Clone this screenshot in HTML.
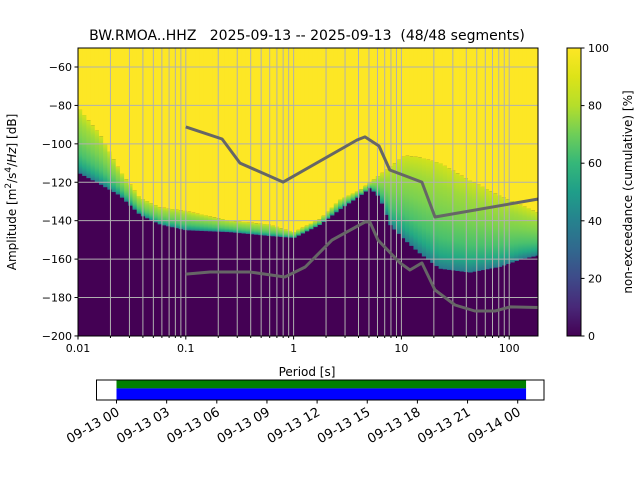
<!DOCTYPE html>
<html><head><meta charset="utf-8"><style>
html,body{margin:0;padding:0;background:#fff}
svg{display:block;font-family:"DejaVu Sans","Liberation Sans",sans-serif}
</style></head><body>
<svg id="chart" width="640" height="480" viewBox="0 0 640 480">
<defs>
<linearGradient id="band" x1="0" y1="0" x2="0" y2="1">
<stop offset="0" stop-color="#d2e21b"/><stop offset="0.2" stop-color="#a0da39"/>
<stop offset="0.45" stop-color="#7ad151"/><stop offset="0.7" stop-color="#4ac16d"/>
<stop offset="0.87" stop-color="#22a884"/><stop offset="1" stop-color="#2a788e"/>
</linearGradient>
<linearGradient id="viridis" x1="0" y1="1" x2="0" y2="0">
<stop offset="0" stop-color="#440154"/><stop offset="0.1" stop-color="#482878"/>
<stop offset="0.2" stop-color="#3e4a89"/><stop offset="0.3" stop-color="#31688e"/>
<stop offset="0.4" stop-color="#26828e"/><stop offset="0.5" stop-color="#1f9e89"/>
<stop offset="0.6" stop-color="#35b779"/><stop offset="0.7" stop-color="#6ece58"/>
<stop offset="0.8" stop-color="#b5de2b"/><stop offset="0.9" stop-color="#dde318"/>
<stop offset="1" stop-color="#fde725"/>
</linearGradient>
<clipPath id="plotclip"><rect x="78" y="48" width="460" height="288"/></clipPath>
</defs>
<text x="307" y="40" text-anchor="middle" font-size="14" xml:space="preserve" style="white-space:pre">BW.RMOA..HHZ   2025-09-13 -- 2025-09-13  (48/48 segments)</text>
<g id="plot" clip-path="url(#plotclip)"></g>
<g id="axes"></g>
<rect x="567" y="48" width="14" height="288" fill="url(#viridis)"/>
<g id="cbar"></g>
<text transform="translate(632,192) rotate(-90)" text-anchor="middle" font-size="12">non-exceedance (cumulative) [%]</text>
<text x="307" y="376" text-anchor="middle" font-size="12">Period [s]</text>
<text transform="translate(16,192) rotate(-90)" text-anchor="middle" font-size="12">Amplitude [m<tspan baseline-shift="super" font-size="9">2</tspan>/s<tspan baseline-shift="super" font-size="9">4</tspan>/<tspan font-style="italic">Hz</tspan>] [dB]</text>
<g id="time"></g>
</svg>
<script>
const periods=[0.01,0.016,0.0245,0.0376,0.0577,0.1,0.257,0.6,1.0,1.76,2.69,4.13,5.1,6.3,7.8,10.7,14.8,22.8,43,82,130,190];
const lowEdge=[-115,-121,-127,-137,-142,-145,-146,-148,-149,-142,-134,-127,-123,-128,-142,-150,-157,-165,-167,-164,-160,-158];
const highEdge=[-81,-95,-114,-128,-133,-135,-140,-142,-146,-139,-129,-124,-120,-116,-112,-106,-107,-110,-119,-127,-132,-136];
const hnmPeriods=[0.1,0.217,0.318,0.80,3.87,4.6,6.2,7.8,15.5,20.5,186];
const hnmValues=[-91.2,-97.5,-110,-119.9,-98,-96.4,-101.1,-113.6,-119.9,-138.1,-128.7];
const lnmPeriods=[0.1,0.168,0.395,0.83,1.28,2.27,4.6,5.1,6.07,9.7,12.0,15.5,20.5,31.4,48,74,102,186];
const lnmValues=[-167.8,-166.7,-166.7,-169.3,-164.1,-150.1,-140.7,-140.7,-150.1,-162,-165.7,-162,-176.1,-183.9,-187,-187,-184.9,-185.2];
const yTicks=[-60,-80,-100,-120,-140,-160,-180,-200];
const xTickLabels=["0.01","0.1","1","10","100"];
const cbarTicks=[0,20,40,60,80,100];
const timeTicks=["09-13 00","09-13 03","09-13 06","09-13 09","09-13 12","09-13 15","09-13 18","09-13 21","09-14 00"];
const coverageStartHour=0, coverageEndHour=24.5;

const NS="http://www.w3.org/2000/svg";
const X0=78,X1=538,Y0=48,Y1=336;
const DEC=107.8;
const xs=p=>X0+(Math.log10(p)+2)*DEC;
const ys=d=>67+(-60-d)*1.921;
function mk(parent,tag,attrs){const e=document.createElementNS(NS,tag);for(const k in attrs)e.setAttribute(k,attrs[k]);parent.appendChild(e);return e;}
const plot=document.getElementById('plot');
let r=mk(plot,'rect',{x:X0,y:Y0,width:X1-X0,height:Y1-Y0,fill:'#440154'});


function interp(arr,lp){const L=periods.map(Math.log10);
 if(lp<=L[0])return arr[0];for(let i=1;i<L.length;i++){if(lp<=L[i]){const t=(lp-L[i-1])/(L[i]-L[i-1]);return arr[i-1]+t*(arr[i]-arr[i-1]);}}return arr[arr.length-1];}
const lpMin=Math.log10(periods[0]),lpMax=Math.log10(periods[periods.length-1]);
const N=110;
for(let i=0;i<N;i++){
 const a=lpMin+(lpMax-lpMin)*i/N,b=lpMin+(lpMax-lpMin)*(i+1)/N,m=(a+b)/2;
 const xa=xs(Math.pow(10,a)),xb=xs(Math.pow(10,b));
 const hi=interp(highEdge,m),lo=interp(lowEdge,m);
 const yh=ys(hi),yl=ys(lo);
 const y=mk(plot,'rect',{x:xa,y:Y0,width:xb-xa+0.6,height:yh-Y0,fill:'#fde725'});
 
 
 const g=mk(plot,'rect',{x:xa,y:yh,width:xb-xa+0.6,height:Math.max(1,yl-yh),fill:'url(#band)'});
 
 
}
for(let d=-2;d<=2;d++){for(let k=1;k<=9;k++){const p=k*Math.pow(10,d);const x=xs(p);if(x<=X0+1||x>=X1)continue;
 const l=mk(plot,'line',{x1:x,x2:x,y1:Y0,y2:Y1,stroke:'#b0b0b0','stroke-width':1});
 
 }}
yTicks.forEach(v=>{const y=ys(v);const l=mk(plot,'line',{x1:X0,x2:X1,y1:y,y2:y,stroke:'#b0b0b0','stroke-width':1});
 
 });
function poly(P,V,name){const pts=P.map((p,i)=>xs(p).toFixed(1)+','+ys(V[i]).toFixed(1)).join(' ');
 const e=mk(plot,'polyline',{points:pts,fill:'none',stroke:'#666666','stroke-width':3,'stroke-linejoin':'round'});
 
 }
poly(hnmPeriods,hnmValues,'high-noise-model-line');
poly(lnmPeriods,lnmValues,'low-noise-model-line');
const ax=document.getElementById('axes');
const fr=mk(ax,'rect',{x:X0,y:Y0,width:X1-X0,height:Y1-Y0,fill:'none',stroke:'#000','stroke-width':1});


yTicks.forEach(v=>{const y=ys(v);mk(ax,'line',{x1:X0-3.5,x2:X0,y1:y,y2:y,stroke:'#000'});
 const t=mk(ax,'text',{x:X0-6,y:y+4,'text-anchor':'end','font-size':11});t.textContent=String(v).replace('-','\u2212');
 
 });
xTickLabels.forEach(s=>{const x=xs(parseFloat(s));mk(ax,'line',{x1:x,x2:x,y1:Y1,y2:Y1+3.5,stroke:'#000'});
 const t=mk(ax,'text',{x:x,y:Y1+16,'text-anchor':'middle','font-size':11});t.textContent=s;
 
 });
for(let d=-2;d<=2;d++){for(let k=2;k<=9;k++){const x=xs(k*Math.pow(10,d));if(x>=X1)continue;mk(ax,'line',{x1:x,x2:x,y1:Y1,y2:Y1+2,stroke:'#000'});}}
const cb=document.getElementById('cbar');
mk(cb,'rect',{x:567,y:48,width:14,height:288,fill:'none',stroke:'#000'});
cbarTicks.forEach(v=>{const y=336-v/100*288;mk(cb,'line',{x1:581,x2:584.5,y1:y,y2:y,stroke:'#000'});
 const t=mk(cb,'text',{x:588,y:y+4,'font-size':11});t.textContent=v;
 
 });
const tg=document.getElementById('time');
const TX0=116.5,TH=50.15/3;
const tx=h=>TX0+h*TH;
let gb=mk(tg,'rect',{x:tx(coverageStartHour),y:380,width:tx(coverageEndHour)-tx(coverageStartHour),height:8.4,fill:'#008000'});


let bb=mk(tg,'rect',{x:tx(coverageStartHour),y:388.4,width:tx(coverageEndHour)-tx(coverageStartHour),height:11.6,fill:'#0000ff'});


mk(tg,'rect',{x:96.5,y:380,width:447.5,height:20,fill:'none',stroke:'#000'});
timeTicks.forEach((s,i)=>{const x=tx(i*3);mk(tg,'line',{x1:x,x2:x,y1:400,y2:403.5,stroke:'#000'});
 const t=mk(tg,'text',{transform:`translate(${x-1},${406}) rotate(-30)`,'text-anchor':'end','font-size':13,dy:'0.75em'});t.textContent=s;
 
 });
</script>
</body></html>
